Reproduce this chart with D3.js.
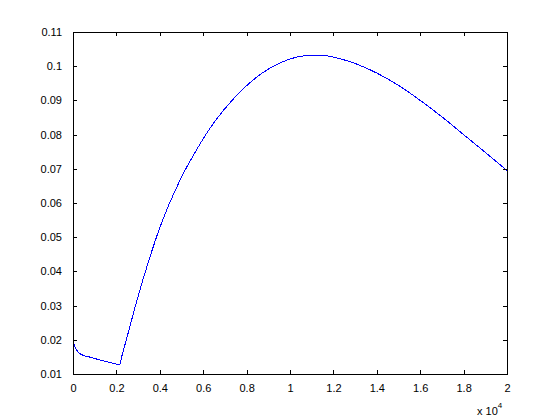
<!DOCTYPE html>
<html>
<head>
<meta charset="utf-8">
<script src="https://cdn.jsdelivr.net/npm/d3@7"></script>
<style>
  html, body { margin: 0; padding: 0; background: #fff; }
  svg { display: block; }
  text { font-family: "Liberation Sans", Arial, sans-serif; font-size: 11px; fill: #000; }
</style>
</head>
<body>
<svg id="chart" width="560" height="420"></svg>
<script>
// Data (x in raw units, shown as x 10^4)
const xValues = [0, 40, 150, 350, 800, 1250, 1700, 2150, 2250, 2500, 2950, 3550, 3900, 4300, 4700, 5100, 5600, 6100, 6600, 7300, 8000, 8700, 9300, 10000, 10600, 11100, 11600, 12300, 13000, 14000, 15000, 16000, 17000, 18000, 19000, 20000];
const yValues = [0.0207, 0.0190, 0.0172, 0.0158, 0.0149, 0.0141, 0.0134, 0.0128, 0.0152, 0.0210, 0.0316, 0.0443, 0.0510, 0.0577, 0.0635, 0.0688, 0.0745, 0.0798, 0.0844, 0.0898, 0.0943, 0.0979, 0.1002, 0.1021, 0.1030, 0.1032, 0.1031, 0.1022, 0.1008, 0.0980, 0.0944, 0.0900, 0.0852, 0.0800, 0.0748, 0.0695];
const xTicks = [0, 2000, 4000, 6000, 8000, 10000, 12000, 14000, 16000, 18000, 20000];
const xTickLabels = ["0", "0.2", "0.4", "0.6", "0.8", "1", "1.2", "1.4", "1.6", "1.8", "2"];
const yTicks = [0.01, 0.02, 0.03, 0.04, 0.05, 0.06, 0.07, 0.08, 0.09, 0.1, 0.11];
const yTickLabels = ["0.01", "0.02", "0.03", "0.04", "0.05", "0.06", "0.07", "0.08", "0.09", "0.1", "0.11"];
const exponentBase = "x 10";
const exponent = "4";

const svg = d3.select("#chart");
const L = 73, R = 507, T = 32, B = 374;
const x = d3.scaleLinear().domain([0, 20000]).range([L, R]);
const y = d3.scaleLinear().domain([0.01, 0.11]).range([B, T]);
const tickLen = 4;

const g = svg.append("g");

// Curve
const data = xValues.map((v, i) => [v, yValues[i]]);
const line = d3.line().x(d => x(d[0])).y(d => y(d[1])).curve(d3.curveMonotoneX);
g.append("path")
  .datum(data)
  .attr("d", line)
  .attr("fill", "none")
  .attr("stroke", "#0000ff")
  .attr("stroke-width", 1)
  .attr("shape-rendering", "crispEdges");

// Axes via d3 axes
const fmtX = (d, i) => xTickLabels[i];
const fmtY = (d, i) => yTickLabels[i];

const axB = g.append("g").attr("transform", `translate(0,${B})`)
  .call(d3.axisBottom(x).tickValues(xTicks).tickFormat(fmtX).tickSizeInner(-tickLen).tickSizeOuter(0).tickPadding(10));
const axT = g.append("g").attr("transform", `translate(0,${T})`)
  .call(d3.axisTop(x).tickValues(xTicks).tickFormat("").tickSizeInner(-tickLen).tickSizeOuter(0));
const axL = g.append("g").attr("transform", `translate(${L},0)`)
  .call(d3.axisLeft(y).tickValues(yTicks).tickFormat(fmtY).tickSizeInner(-tickLen).tickSizeOuter(0).tickPadding(11));
const axR = g.append("g").attr("transform", `translate(${R},0)`)
  .call(d3.axisRight(y).tickValues(yTicks).tickFormat("").tickSizeInner(-tickLen).tickSizeOuter(0));

[axB, axT, axL, axR].forEach(a => {
  a.selectAll("path.domain").remove();
  a.selectAll("line").attr("stroke", "#000").attr("shape-rendering", "crispEdges");
  a.selectAll("text").attr("font-family", "Liberation Sans, Arial, sans-serif").attr("font-size", 11).attr("fill", "#000");
});
axB.selectAll("text").attr("dy", "0.71em");

// Box
g.append("rect")
  .attr("x", L + 0.5).attr("y", T + 0.5)
  .attr("width", R - L).attr("height", B - T)
  .attr("fill", "none").attr("stroke", "#000").attr("stroke-width", 1)
  .attr("shape-rendering", "crispEdges");

// Exponent label
const ex = g.append("text").attr("x", 477).attr("y", 415);
ex.append("tspan").text(exponentBase);
ex.append("tspan").attr("dy", -7).attr("font-size", 8).text(exponent);
</script>
</body>
</html>
